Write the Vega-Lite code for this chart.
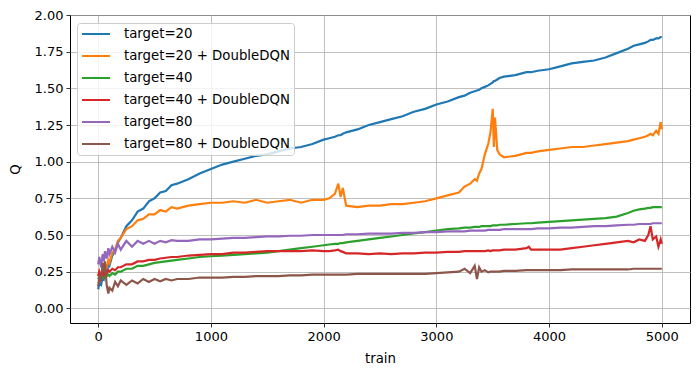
{
  "$schema": "https://vega.github.io/schema/vega-lite/v6.json",
  "width": 620,
  "height": 308,
  "autosize": {"type": "none"},
  "padding": {"left": 70, "top": 15, "right": 10, "bottom": 53},
  "background": "white",
  "config": {
    "font": "DejaVu Sans",
    "view": {"stroke": "black", "strokeWidth": 1},
    "axis": {
      "domain": false,
      "grid": true,
      "gridColor": "#b0b0b0",
      "gridWidth": 0.8,
      "tickColor": "black",
      "tickSize": 4,
      "tickWidth": 0.8,
      "labelColor": "black",
      "labelFont": "DejaVu Sans",
      "labelFontSize": 13,
      "labelPadding": 3,
      "titleFont": "DejaVu Sans",
      "titleFontSize": 13.3,
      "titleFontWeight": "normal",
      "titleColor": "black"
    }
  },
  "data": {
    "values": [
      {"x":0,"target=20":0.13,"target=20 + DoubleDQN":0.22,"target=40":0.20,"target=40 + DoubleDQN":0.22,"target=80":0.30,"target=80 + DoubleDQN":0.15},
      {"x":10,"target=20":0.17,"target=20 + DoubleDQN":0.25,"target=40":0.22,"target=40 + DoubleDQN":0.25,"target=80":0.35,"target=80 + DoubleDQN":0.22},
      {"x":25,"target=20":0.16,"target=20 + DoubleDQN":0.21,"target=40":0.20,"target=40 + DoubleDQN":0.22,"target=80":0.28,"target=80 + DoubleDQN":0.18},
      {"x":40,"target=20":0.21,"target=20 + DoubleDQN":0.27,"target=40":0.22,"target=40 + DoubleDQN":0.25,"target=80":0.37,"target=80 + DoubleDQN":0.31},
      {"x":50,"target=20":0.20,"target=20 + DoubleDQN":0.25,"target=40":0.21,"target=40 + DoubleDQN":0.23,"target=80":0.32,"target=80 + DoubleDQN":0.25},
      {"x":60,"target=20":0.25,"target=20 + DoubleDQN":0.30,"target=40":0.23,"target=40 + DoubleDQN":0.26,"target=80":0.39,"target=80 + DoubleDQN":0.32},
      {"x":75,"target=20":0.24,"target=20 + DoubleDQN":0.28,"target=40":0.22,"target=40 + DoubleDQN":0.24,"target=80":0.34,"target=80 + DoubleDQN":0.16},
      {"x":90,"target=20":0.30,"target=20 + DoubleDQN":0.33,"target=40":0.23,"target=40 + DoubleDQN":0.26,"target=80":0.41,"target=80 + DoubleDQN":0.10},
      {"x":100,"target=20":0.29,"target=20 + DoubleDQN":0.31,"target=40":0.22,"target=40 + DoubleDQN":0.25,"target=80":0.37,"target=80 + DoubleDQN":0.14},
      {"x":125,"target=20":0.36,"target=20 + DoubleDQN":0.38,"target=40":0.24,"target=40 + DoubleDQN":0.27,"target=80":0.42,"target=80 + DoubleDQN":0.12},
      {"x":150,"target=20":0.39,"target=20 + DoubleDQN":0.40,"target=40":0.23,"target=40 + DoubleDQN":0.26,"target=80":0.38,"target=80 + DoubleDQN":0.18},
      {"x":175,"target=20":0.45,"target=20 + DoubleDQN":0.46,"target=40":0.25,"target=40 + DoubleDQN":0.28,"target=80":0.44,"target=80 + DoubleDQN":0.15},
      {"x":200,"target=20":0.48,"target=20 + DoubleDQN":0.48,"target=40":0.25,"target=40 + DoubleDQN":0.28,"target=80":0.40,"target=80 + DoubleDQN":0.19},
      {"x":250,"target=20":0.56,"target=20 + DoubleDQN":0.54,"target=40":0.27,"target=40 + DoubleDQN":0.30,"target=80":0.46,"target=80 + DoubleDQN":0.16},
      {"x":300,"target=20":0.60,"target=20 + DoubleDQN":0.56,"target=40":0.27,"target=40 + DoubleDQN":0.30,"target=80":0.42,"target=80 + DoubleDQN":0.19},
      {"x":350,"target=20":0.66,"target=20 + DoubleDQN":0.60,"target=40":0.29,"target=40 + DoubleDQN":0.32,"target=80":0.46,"target=80 + DoubleDQN":0.17},
      {"x":400,"target=20":0.68,"target=20 + DoubleDQN":0.61,"target=40":0.29,"target=40 + DoubleDQN":0.32,"target=80":0.44,"target=80 + DoubleDQN":0.20},
      {"x":450,"target=20":0.73,"target=20 + DoubleDQN":0.64,"target=40":0.30,"target=40 + DoubleDQN":0.33,"target=80":0.46,"target=80 + DoubleDQN":0.18},
      {"x":500,"target=20":0.75,"target=20 + DoubleDQN":0.64,"target=40":0.31,"target=40 + DoubleDQN":0.33,"target=80":0.44,"target=80 + DoubleDQN":0.20},
      {"x":550,"target=20":0.79,"target=20 + DoubleDQN":0.67,"target=40":0.315,"target=40 + DoubleDQN":0.34,"target=80":0.46,"target=80 + DoubleDQN":0.185},
      {"x":600,"target=20":0.80,"target=20 + DoubleDQN":0.66,"target=40":0.32,"target=40 + DoubleDQN":0.345,"target=80":0.45,"target=80 + DoubleDQN":0.20},
      {"x":650,"target=20":0.84,"target=20 + DoubleDQN":0.69,"target=40":0.325,"target=40 + DoubleDQN":0.35,"target=80":0.465,"target=80 + DoubleDQN":0.19},
      {"x":700,"target=20":0.85,"target=20 + DoubleDQN":0.68,"target=40":0.33,"target=40 + DoubleDQN":0.35,"target=80":0.46,"target=80 + DoubleDQN":0.20},
      {"x":800,"target=20":0.88,"target=20 + DoubleDQN":0.70,"target=40":0.34,"target=40 + DoubleDQN":0.36,"target=80":0.46,"target=80 + DoubleDQN":0.20},
      {"x":900,"target=20":0.92,"target=20 + DoubleDQN":0.71,"target=40":0.35,"target=40 + DoubleDQN":0.365,"target=80":0.47,"target=80 + DoubleDQN":0.21},
      {"x":1000,"target=20":0.95,"target=20 + DoubleDQN":0.72,"target=40":0.355,"target=40 + DoubleDQN":0.37,"target=80":0.47,"target=80 + DoubleDQN":0.21},
      {"x":1100,"target=20":0.98,"target=20 + DoubleDQN":0.72,"target=40":0.36,"target=40 + DoubleDQN":0.37,"target=80":0.475,"target=80 + DoubleDQN":0.21},
      {"x":1200,"target=20":1.00,"target=20 + DoubleDQN":0.73,"target=40":0.365,"target=40 + DoubleDQN":0.38,"target=80":0.48,"target=80 + DoubleDQN":0.215},
      {"x":1300,"target=20":1.02,"target=20 + DoubleDQN":0.72,"target=40":0.37,"target=40 + DoubleDQN":0.38,"target=80":0.48,"target=80 + DoubleDQN":0.215},
      {"x":1400,"target=20":1.04,"target=20 + DoubleDQN":0.74,"target=40":0.375,"target=40 + DoubleDQN":0.385,"target=80":0.485,"target=80 + DoubleDQN":0.22},
      {"x":1500,"target=20":1.05,"target=20 + DoubleDQN":0.72,"target=40":0.38,"target=40 + DoubleDQN":0.39,"target=80":0.49,"target=80 + DoubleDQN":0.22},
      {"x":1600,"target=20":1.07,"target=20 + DoubleDQN":0.73,"target=40":0.39,"target=40 + DoubleDQN":0.39,"target=80":0.49,"target=80 + DoubleDQN":0.22},
      {"x":1700,"target=20":1.09,"target=20 + DoubleDQN":0.74,"target=40":0.40,"target=40 + DoubleDQN":0.39,"target=80":0.495,"target=80 + DoubleDQN":0.225},
      {"x":1800,"target=20":1.10,"target=20 + DoubleDQN":0.72,"target=40":0.41,"target=40 + DoubleDQN":0.39,"target=80":0.495,"target=80 + DoubleDQN":0.225},
      {"x":1900,"target=20":1.12,"target=20 + DoubleDQN":0.74,"target=40":0.42,"target=40 + DoubleDQN":0.395,"target=80":0.50,"target=80 + DoubleDQN":0.23},
      {"x":2000,"target=20":1.15,"target=20 + DoubleDQN":0.74,"target=40":0.43,"target=40 + DoubleDQN":0.39,"target=80":0.50,"target=80 + DoubleDQN":0.23},
      {"x":2050,"target=20":1.16,"target=20 + DoubleDQN":0.75,"target=40":0.435,"target=40 + DoubleDQN":0.39,"target=80":0.50,"target=80 + DoubleDQN":0.23},
      {"x":2100,"target=20":1.17,"target=20 + DoubleDQN":0.78,"target=40":0.44,"target=40 + DoubleDQN":0.395,"target=80":0.50,"target=80 + DoubleDQN":0.23},
      {"x":2130,"target=20":1.18,"target=20 + DoubleDQN":0.85,"target=40":0.44,"target=40 + DoubleDQN":0.40,"target=80":0.50,"target=80 + DoubleDQN":0.23},
      {"x":2150,"target=20":1.18,"target=20 + DoubleDQN":0.76,"target=40":0.445,"target=40 + DoubleDQN":0.39,"target=80":0.50,"target=80 + DoubleDQN":0.23},
      {"x":2170,"target=20":1.19,"target=20 + DoubleDQN":0.82,"target=40":0.445,"target=40 + DoubleDQN":0.385,"target=80":0.50,"target=80 + DoubleDQN":0.23},
      {"x":2200,"target=20":1.20,"target=20 + DoubleDQN":0.70,"target=40":0.45,"target=40 + DoubleDQN":0.375,"target=80":0.505,"target=80 + DoubleDQN":0.23},
      {"x":2300,"target=20":1.22,"target=20 + DoubleDQN":0.69,"target=40":0.46,"target=40 + DoubleDQN":0.375,"target=80":0.505,"target=80 + DoubleDQN":0.235},
      {"x":2400,"target=20":1.25,"target=20 + DoubleDQN":0.70,"target=40":0.47,"target=40 + DoubleDQN":0.37,"target=80":0.51,"target=80 + DoubleDQN":0.235},
      {"x":2500,"target=20":1.27,"target=20 + DoubleDQN":0.70,"target=40":0.48,"target=40 + DoubleDQN":0.375,"target=80":0.51,"target=80 + DoubleDQN":0.235},
      {"x":2600,"target=20":1.29,"target=20 + DoubleDQN":0.71,"target=40":0.49,"target=40 + DoubleDQN":0.37,"target=80":0.51,"target=80 + DoubleDQN":0.235},
      {"x":2700,"target=20":1.31,"target=20 + DoubleDQN":0.71,"target=40":0.50,"target=40 + DoubleDQN":0.375,"target=80":0.515,"target=80 + DoubleDQN":0.235},
      {"x":2800,"target=20":1.34,"target=20 + DoubleDQN":0.72,"target=40":0.51,"target=40 + DoubleDQN":0.375,"target=80":0.515,"target=80 + DoubleDQN":0.235},
      {"x":2900,"target=20":1.36,"target=20 + DoubleDQN":0.73,"target=40":0.52,"target=40 + DoubleDQN":0.38,"target=80":0.52,"target=80 + DoubleDQN":0.235},
      {"x":3000,"target=20":1.39,"target=20 + DoubleDQN":0.75,"target=40":0.53,"target=40 + DoubleDQN":0.38,"target=80":0.52,"target=80 + DoubleDQN":0.24},
      {"x":3100,"target=20":1.41,"target=20 + DoubleDQN":0.77,"target=40":0.54,"target=40 + DoubleDQN":0.385,"target=80":0.525,"target=80 + DoubleDQN":0.245},
      {"x":3200,"target=20":1.44,"target=20 + DoubleDQN":0.79,"target=40":0.545,"target=40 + DoubleDQN":0.385,"target=80":0.525,"target=80 + DoubleDQN":0.25},
      {"x":3250,"target=20":1.45,"target=20 + DoubleDQN":0.83,"target=40":0.55,"target=40 + DoubleDQN":0.39,"target=80":0.525,"target=80 + DoubleDQN":0.27},
      {"x":3300,"target=20":1.47,"target=20 + DoubleDQN":0.85,"target=40":0.55,"target=40 + DoubleDQN":0.39,"target=80":0.53,"target=80 + DoubleDQN":0.24},
      {"x":3340,"target=20":1.48,"target=20 + DoubleDQN":0.88,"target=40":0.555,"target=40 + DoubleDQN":0.39,"target=80":0.53,"target=80 + DoubleDQN":0.29},
      {"x":3360,"target=20":1.485,"target=20 + DoubleDQN":0.87,"target=40":0.555,"target=40 + DoubleDQN":0.39,"target=80":0.53,"target=80 + DoubleDQN":0.20},
      {"x":3380,"target=20":1.49,"target=20 + DoubleDQN":0.92,"target=40":0.555,"target=40 + DoubleDQN":0.39,"target=80":0.53,"target=80 + DoubleDQN":0.28},
      {"x":3400,"target=20":1.50,"target=20 + DoubleDQN":0.95,"target=40":0.56,"target=40 + DoubleDQN":0.39,"target=80":0.53,"target=80 + DoubleDQN":0.25},
      {"x":3430,"target=20":1.51,"target=20 + DoubleDQN":1.05,"target=40":0.56,"target=40 + DoubleDQN":0.39,"target=80":0.53,"target=80 + DoubleDQN":0.26},
      {"x":3460,"target=20":1.52,"target=20 + DoubleDQN":1.12,"target=40":0.56,"target=40 + DoubleDQN":0.395,"target=80":0.535,"target=80 + DoubleDQN":0.245},
      {"x":3480,"target=20":1.53,"target=20 + DoubleDQN":1.20,"target=40":0.56,"target=40 + DoubleDQN":0.39,"target=80":0.535,"target=80 + DoubleDQN":0.25},
      {"x":3500,"target=20":1.54,"target=20 + DoubleDQN":1.36,"target=40":0.565,"target=40 + DoubleDQN":0.395,"target=80":0.535,"target=80 + DoubleDQN":0.25},
      {"x":3510,"target=20":1.55,"target=20 + DoubleDQN":1.10,"target=40":0.565,"target=40 + DoubleDQN":0.395,"target=80":0.535,"target=80 + DoubleDQN":0.25},
      {"x":3520,"target=20":1.55,"target=20 + DoubleDQN":1.30,"target=40":0.565,"target=40 + DoubleDQN":0.395,"target=80":0.535,"target=80 + DoubleDQN":0.25},
      {"x":3540,"target=20":1.56,"target=20 + DoubleDQN":1.08,"target=40":0.565,"target=40 + DoubleDQN":0.395,"target=80":0.535,"target=80 + DoubleDQN":0.25},
      {"x":3560,"target=20":1.57,"target=20 + DoubleDQN":1.05,"target=40":0.57,"target=40 + DoubleDQN":0.395,"target=80":0.535,"target=80 + DoubleDQN":0.25},
      {"x":3600,"target=20":1.58,"target=20 + DoubleDQN":1.03,"target=40":0.57,"target=40 + DoubleDQN":0.40,"target=80":0.54,"target=80 + DoubleDQN":0.255},
      {"x":3700,"target=20":1.59,"target=20 + DoubleDQN":1.04,"target=40":0.575,"target=40 + DoubleDQN":0.40,"target=80":0.54,"target=80 + DoubleDQN":0.255},
      {"x":3800,"target=20":1.61,"target=20 + DoubleDQN":1.06,"target=40":0.58,"target=40 + DoubleDQN":0.41,"target=80":0.54,"target=80 + DoubleDQN":0.26},
      {"x":3820,"target=20":1.61,"target=20 + DoubleDQN":1.06,"target=40":0.58,"target=40 + DoubleDQN":0.42,"target=80":0.54,"target=80 + DoubleDQN":0.26},
      {"x":3840,"target=20":1.61,"target=20 + DoubleDQN":1.06,"target=40":0.58,"target=40 + DoubleDQN":0.40,"target=80":0.54,"target=80 + DoubleDQN":0.26},
      {"x":3900,"target=20":1.62,"target=20 + DoubleDQN":1.07,"target=40":0.585,"target=40 + DoubleDQN":0.40,"target=80":0.545,"target=80 + DoubleDQN":0.26},
      {"x":4000,"target=20":1.63,"target=20 + DoubleDQN":1.08,"target=40":0.59,"target=40 + DoubleDQN":0.40,"target=80":0.545,"target=80 + DoubleDQN":0.26},
      {"x":4100,"target=20":1.65,"target=20 + DoubleDQN":1.09,"target=40":0.595,"target=40 + DoubleDQN":0.40,"target=80":0.55,"target=80 + DoubleDQN":0.26},
      {"x":4200,"target=20":1.67,"target=20 + DoubleDQN":1.10,"target=40":0.60,"target=40 + DoubleDQN":0.41,"target=80":0.55,"target=80 + DoubleDQN":0.265},
      {"x":4300,"target=20":1.68,"target=20 + DoubleDQN":1.10,"target=40":0.605,"target=40 + DoubleDQN":0.42,"target=80":0.555,"target=80 + DoubleDQN":0.265},
      {"x":4400,"target=20":1.69,"target=20 + DoubleDQN":1.11,"target=40":0.61,"target=40 + DoubleDQN":0.43,"target=80":0.56,"target=80 + DoubleDQN":0.265},
      {"x":4500,"target=20":1.71,"target=20 + DoubleDQN":1.12,"target=40":0.615,"target=40 + DoubleDQN":0.44,"target=80":0.56,"target=80 + DoubleDQN":0.265},
      {"x":4600,"target=20":1.74,"target=20 + DoubleDQN":1.13,"target=40":0.625,"target=40 + DoubleDQN":0.45,"target=80":0.565,"target=80 + DoubleDQN":0.265},
      {"x":4700,"target=20":1.77,"target=20 + DoubleDQN":1.14,"target=40":0.65,"target=40 + DoubleDQN":0.46,"target=80":0.57,"target=80 + DoubleDQN":0.265},
      {"x":4750,"target=20":1.79,"target=20 + DoubleDQN":1.15,"target=40":0.665,"target=40 + DoubleDQN":0.45,"target=80":0.57,"target=80 + DoubleDQN":0.27},
      {"x":4800,"target=20":1.80,"target=20 + DoubleDQN":1.16,"target=40":0.675,"target=40 + DoubleDQN":0.47,"target=80":0.575,"target=80 + DoubleDQN":0.27},
      {"x":4850,"target=20":1.81,"target=20 + DoubleDQN":1.17,"target=40":0.68,"target=40 + DoubleDQN":0.46,"target=80":0.575,"target=80 + DoubleDQN":0.27},
      {"x":4880,"target=20":1.82,"target=20 + DoubleDQN":1.18,"target=40":0.685,"target=40 + DoubleDQN":0.50,"target=80":0.575,"target=80 + DoubleDQN":0.27},
      {"x":4900,"target=20":1.83,"target=20 + DoubleDQN":1.19,"target=40":0.685,"target=40 + DoubleDQN":0.56,"target=80":0.575,"target=80 + DoubleDQN":0.27},
      {"x":4920,"target=20":1.83,"target=20 + DoubleDQN":1.18,"target=40":0.69,"target=40 + DoubleDQN":0.47,"target=80":0.58,"target=80 + DoubleDQN":0.27},
      {"x":4950,"target=20":1.84,"target=20 + DoubleDQN":1.21,"target=40":0.69,"target=40 + DoubleDQN":0.49,"target=80":0.58,"target=80 + DoubleDQN":0.27},
      {"x":4970,"target=20":1.84,"target=20 + DoubleDQN":1.19,"target=40":0.69,"target=40 + DoubleDQN":0.42,"target=80":0.58,"target=80 + DoubleDQN":0.27},
      {"x":4990,"target=20":1.85,"target=20 + DoubleDQN":1.27,"target=40":0.69,"target=40 + DoubleDQN":0.47,"target=80":0.58,"target=80 + DoubleDQN":0.27},
      {"x":5000,"target=20":1.85,"target=20 + DoubleDQN":1.22,"target=40":0.69,"target=40 + DoubleDQN":0.44,"target=80":0.58,"target=80 + DoubleDQN":0.27}
    ]
  },
  "transform": [
    {"fold": ["target=20", "target=20 + DoubleDQN", "target=40", "target=40 + DoubleDQN", "target=80", "target=80 + DoubleDQN"], "as": ["series", "q"]}
  ],
  "mark": {"type": "line", "strokeWidth": 2.2, "clip": true},
  "encoding": {
    "x": {
      "field": "x", "type": "quantitative", "title": "train",
      "scale": {"domain": [-250, 5250], "nice": false, "zero": false},
      "axis": {"values": [0, 1000, 2000, 3000, 4000, 5000], "format": "d", "titlePadding": 8}
    },
    "y": {
      "field": "q", "type": "quantitative", "title": "Q",
      "scale": {"domain": [-0.1, 2.0], "nice": false, "zero": false},
      "axis": {"values": [0, 0.25, 0.5, 0.75, 1.0, 1.25, 1.5, 1.75, 2.0], "format": ".2f", "titlePadding": 12}
    },
    "color": {
      "field": "series", "type": "nominal",
      "scale": {
        "domain": ["target=20", "target=20 + DoubleDQN", "target=40", "target=40 + DoubleDQN", "target=80", "target=80 + DoubleDQN"],
        "range": ["#1f77b4", "#ff7f0e", "#2ca02c", "#d62728", "#9467bd", "#8c564b"]
      },
      "legend": {
        "title": null,
        "orient": "none",
        "legendX": 7,
        "legendY": 8,
        "symbolType": "M-2.33,0H2.33",
        "symbolSize": 144,
        "symbolStrokeWidth": 2,
        "symbolOffset": 8,
        "labelFont": "DejaVu Sans",
        "labelFontSize": 13.3,
        "labelColor": "black",
        "labelLimit": 400,
        "labelOffset": 21,
        "rowPadding": 8,
        "padding": 4,
        "fillColor": "rgba(255,255,255,0.8)",
        "strokeColor": "#cccccc",
        "cornerRadius": 3
      }
    }
  }
}
